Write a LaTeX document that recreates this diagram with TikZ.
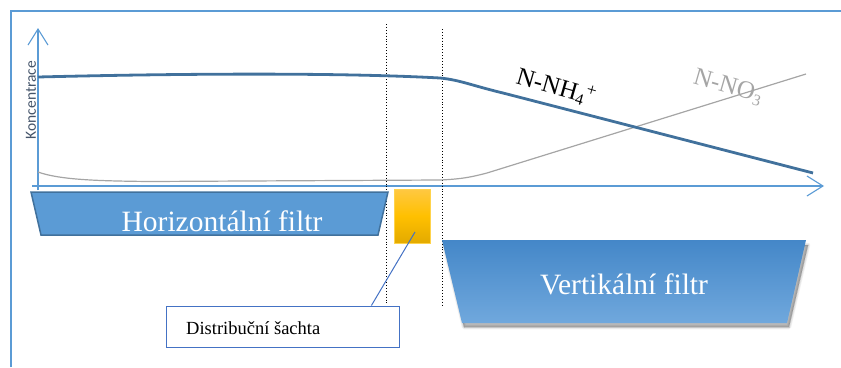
\documentclass[tikz,border=0pt]{standalone}
\usepackage{fontspec}
\setmainfont{Liberation Serif}
\newfontfamily\labelsans{Carlito}
\usetikzlibrary{arrows.meta,calc}

\definecolor{frameblue}{HTML}{5B9BD5}
\definecolor{nhblue}{HTML}{41719C}
\definecolor{nogray}{HTML}{A5A5A5}
\definecolor{axistext}{HTML}{44546A}
\definecolor{hfill}{HTML}{5B9BD5}
\definecolor{hborder}{HTML}{41719C}
\definecolor{vtop}{HTML}{4487C8}
\definecolor{vbottom}{HTML}{70A8DD}
\definecolor{shafttop}{HTML}{FFC842}
\definecolor{shaftmid}{HTML}{FFC000}
\definecolor{shaftbot}{HTML}{E3AA00}
\definecolor{calloutblue}{HTML}{4472C4}

\tikzset{
  axisline/.style={draw=frameblue, line width=1.1pt,
    -{Straight Barb[length=16pt,width=20pt,line width=1.1pt]}},
  divider/.style={draw=black, dotted, line width=0.9pt},
  filtertext/.style={text=white, font=\fontsize{29.5}{32}\selectfont, anchor=base, inner sep=0pt},
  curvelabel/.style={font=\fontsize{25}{28}\selectfont, rotate=-16, inner sep=0pt},
  softshadow/.style={fill=black, opacity=0.08, draw=black, draw opacity=0.05},
}
\newcommand{\lowered}[1]{\raisebox{-0.14em}{\fontsize{16}{17}\selectfont #1}}
\newcommand{\raised}[1]{\raisebox{0.35em}{\fontsize{18}{19}\selectfont #1}}

\begin{document}
\begin{tikzpicture}[x=1pt,y=-1pt]
  \useasboundingbox (0,0) rectangle (841,367);

  % outer frame
  \draw[frameblue, line width=2pt] (11,367) -- (11,11) -- (841,11);

  % axes
  \coordinate (yfoot) at (38,190);
  \coordinate (ytip) at (38,28);
  \coordinate (xfoot) at (32,186);
  \coordinate (xtip) at (824,186);
  \draw[axisline] (yfoot) -- (ytip);
  \draw[axisline] (xfoot) -- (xtip);
  \node[text=axistext, font=\labelsans\fontsize{15.5}{17}\selectfont,
        rotate=90, inner sep=0pt] (ylab) at (31,100) {Koncentrace};

  % boundaries between the stages
  \coordinate (d1top) at (386,24);
  \coordinate (d1bot) at (386,305);
  \coordinate (d2top) at (442,29);
  \coordinate (d2bot) at (442,307);
  \draw[divider] (d1top) -- (d1bot);
  \draw[divider] (d2top) -- (d2bot);

  % concentration curves
  \draw[nogray, line width=1.2pt]
    (38,172) .. controls (60,180) and (100,181) .. (150,181.5)
    -- (440,180) .. controls (465,179) and (475,176) .. (487,173) -- (806,74);
  \draw[nhblue, line width=2.8pt]
    (38,77) .. controls (200,73) and (350,73) .. (440,78)
    .. controls (460,80) and (470,85) .. (503,93) -- (813,173);

  \node[curvelabel, text=black] (nhlab) at (556,87) {N-NH\lowered{4}\raised{+}};
  \node[curvelabel, text=nogray] (nolab) at (728,87) {N-NO\lowered{3}};

  % horizontal filter
  \draw[fill=hfill, draw=hborder, line width=1.5pt, line join=miter]
    (31,192) -- (388,192) -- (378,235) -- (41,235) -- cycle;
  \node[filtertext] (htext) at (222,231) {Horizontální filtr};

  % distribution shaft
  \node[draw=shaftmid!70!white, line width=0.8pt, minimum width=36pt, minimum height=54pt,
        inner sep=0pt, top color=shafttop, bottom color=shaftbot, middle color=shaftmid]
        (shaft) at (412,216) {};

  % vertical filter: soft shadow made of stacked translucent copies, then the body
  \foreach \g in {0,1.5,3,4.5} {
    \fill[softshadow, line width=\g pt, line join=round]
      (444,245) -- (808,245) -- (789,327) -- (464,327) -- cycle;
  }
  \shade[top color=vtop, bottom color=vbottom]
    (442,240) -- (806,240) -- (787,323) -- (462,323) -- cycle;
  \node[filtertext] (vtext) at (624,294) {Vertikální filtr};

  % callout
  \node[draw=calloutblue, line width=1pt, minimum width=233pt, minimum height=41pt,
        inner sep=0pt, fill=white] (callout) at (282.5,326.5) {};
  \node[anchor=base west, inner sep=0pt, font=\fontsize{18.5}{20}\selectfont]
        (callouttext) at (186,334) {Distribuční šachta};
  \coordinate (calloutfoot) at ($(callout.north west)!0.88!(callout.north east)$);
  \coordinate (shaftpoint) at ($(shaft.center)+(3,16)$);
  \draw[calloutblue, line width=1pt] (calloutfoot) -- (shaftpoint);
\end{tikzpicture}
\end{document}
